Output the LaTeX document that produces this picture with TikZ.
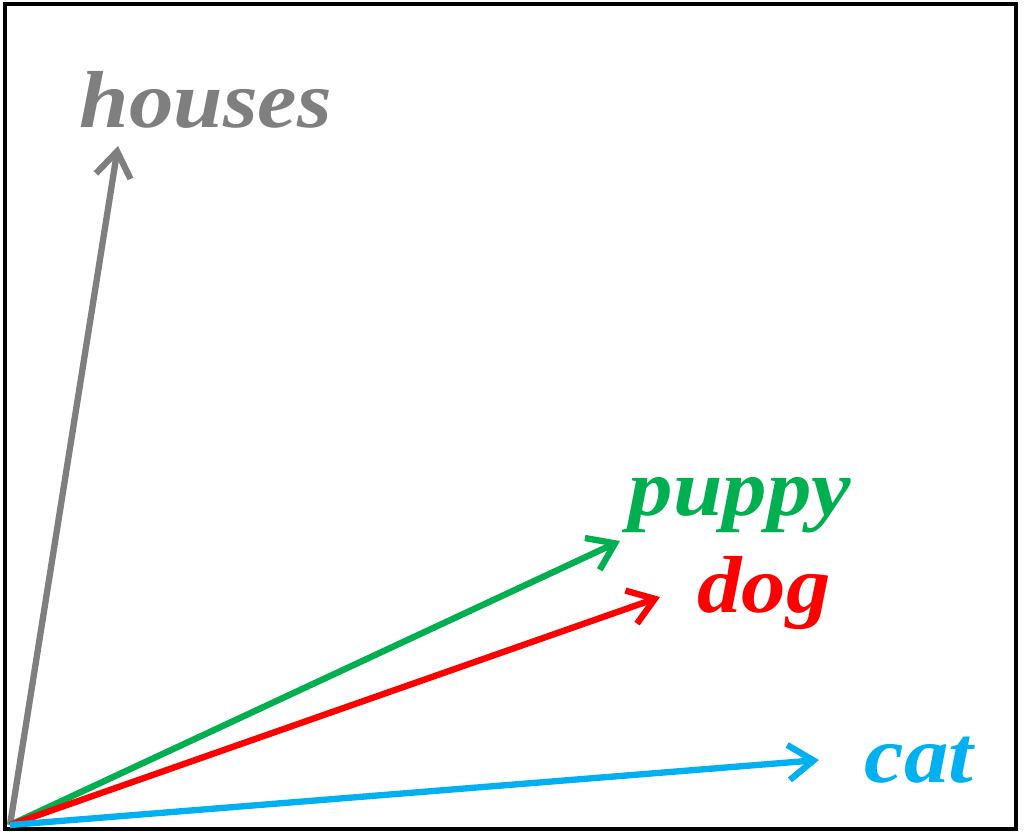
\documentclass[tikz,border=0pt]{standalone}
\usepackage{fontspec}
\setmainfont{Liberation Serif}[FakeStretch=1.1]
\usepackage{tikz}
\usetikzlibrary{arrows.meta}

\definecolor{wordgray}{HTML}{7F7F7F}
\definecolor{wordgreen}{HTML}{00B050}
\definecolor{wordred}{HTML}{FF0000}
\definecolor{wordcyan}{HTML}{00B0F0}

\begin{document}
\begin{tikzpicture}[x=0.2mm, y=-0.2mm,
        vec/.style={line width=3.6pt, -{Straight Barb[length=5mm, width=7mm, line width=3.6pt]}},
        word/.style={anchor=base, inner sep=0pt, font=\fontsize{46}{50}\selectfont\bfseries\itshape}]
        \useasboundingbox (0,0) rectangle (1024,836);
        \draw[line width=2.2pt] (5,4) rectangle (1016,829);

        % origin and tips
        \coordinate (origin) at (10,825);
        \coordinate (housestip) at (118,146);
        \coordinate (puppytip) at (620,541);
        \coordinate (dogtip) at (660,597);
        \coordinate (cattip) at (819,760);

        \draw[vec, wordgray] (origin) -- (housestip);
        \draw[vec, wordgreen] (origin) -- (puppytip);
        \draw[vec, wordred] (origin) -- (dogtip);
        \draw[vec, wordcyan] (origin) -- (cattip);

        % labels
        \node[word, text=wordgray] (houses) at (206,127) {houses};
        \node[word, text=wordgreen] (puppy) at (740,515) {puppy};
        \node[word, text=wordred] (dog) at (764,612) {dog};
        \node[word, text=wordcyan] (cat) at (919,782) {cat};
    \end{tikzpicture}
\end{document}
